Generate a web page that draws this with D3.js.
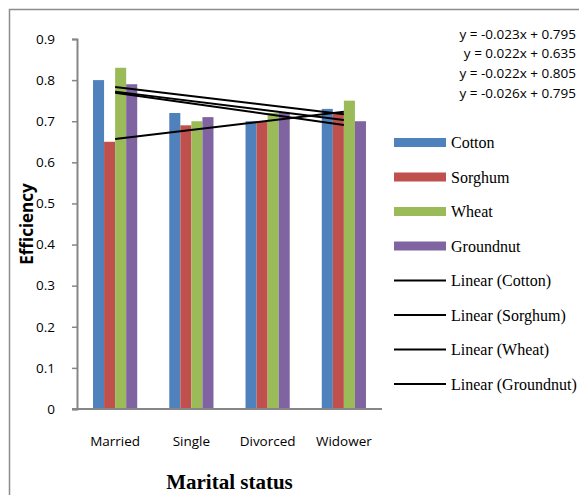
<!DOCTYPE html>
<html>
<head>
<meta charset="utf-8">
<script src="https://cdn.jsdelivr.net/npm/d3@7"></script>
<style>
  body { margin: 0; background: #fff; }
  svg { display: block; }
  .tick-lbl { font-family: "Open Sans", sans-serif; font-size: 13.5px; fill: #000; }
  .legend-lbl { font-family: "Liberation Serif", "Times New Roman", serif; font-size: 16px; fill: #000; }
</style>
</head>
<body>
<div id="chart"></div>
<script>
// data
var categories = ["Married", "Single", "Divorced", "Widower"];
var seriesNames = ["Cotton", "Sorghum", "Wheat", "Groundnut"];
var cotton = [0.80, 0.72, 0.70, 0.73];
var sorghum = [0.65, 0.69, 0.70, 0.72];
var wheat = [0.83, 0.70, 0.72, 0.75];
var groundnut = [0.79, 0.71, 0.72, 0.70];
var yTicks = [0, 0.1, 0.2, 0.3, 0.4, 0.5, 0.6, 0.7, 0.8, 0.9];
var equations = ["y = -0.023x + 0.795", "y = 0.022x + 0.635", "y = -0.022x + 0.805", "y = -0.026x + 0.795"];

var values = [cotton, sorghum, wheat, groundnut];
var colors = ["#4f81bd", "#c0504d", "#9bbb59", "#8064a2"];

var W = 579, H = 495;
var plot = { left: 77, right: 382, top: 39, bottom: 409 };

var svg = d3.select("#chart").append("svg")
    .attr("width", W)
    .attr("height", H);

// outer chart border (cut off right and bottom)
svg.append("path")
    .attr("d", "M9.5," + H + "V9.5H" + W)
    .attr("fill", "none")
    .attr("stroke", "#8c8c8c")
    .attr("stroke-width", 1.5);

var x = d3.scaleBand()
    .domain(categories)
    .range([plot.left, plot.right])
    .paddingInner(0)
    .paddingOuter(0);

var y = d3.scaleLinear()
    .domain([0, 0.9])
    .range([plot.bottom, plot.top]);

// bars, wide gap between groups
var barW = x.bandwidth() / (4 + 2.9);
var groupOffset = (x.bandwidth() - 4 * barW) / 2;

var groups = svg.append("g").selectAll("g")
    .data(categories)
    .enter().append("g")
    .attr("transform", function(d) { return "translate(" + (x(d) + groupOffset) + ",0)"; });

groups.selectAll("rect")
    .data(function(d, i) { return values.map(function(v, s) { return { s: s, v: v[i] }; }); })
    .enter().append("rect")
    .attr("x", function(d) { return d.s * barW; })
    .attr("y", function(d) { return y(d.v); })
    .attr("width", barW)
    .attr("height", function(d) { return plot.bottom - y(d.v); })
    .attr("fill", function(d) { return colors[d.s]; });

// y axis
var yAxis = d3.axisLeft(y)
    .tickValues(yTicks)
    .tickSize(5)
    .tickFormat(function(d) { return d === 0 ? "0" : d3.format(".1f")(d); });

var gy = svg.append("g")
    .attr("transform", "translate(" + plot.left + ",0)")
    .call(yAxis);
gy.select(".domain").attr("stroke", "#868686").attr("stroke-width", 2);
gy.selectAll(".tick line").attr("stroke", "#868686").attr("stroke-width", 1.5);
gy.selectAll(".tick text")
    .attr("class", "tick-lbl")
    .attr("x", -22)
    .attr("font-family", null).attr("font-size", null);

// x axis
var xAxis = d3.axisBottom(x).tickSize(0);
var gx = svg.append("g")
    .attr("transform", "translate(0," + plot.bottom + ")")
    .call(xAxis);
gx.select(".domain").attr("stroke", "#868686").attr("stroke-width", 2)
    .attr("d", "M" + (plot.left - 5) + ",0H" + plot.right);
gx.selectAll(".tick text")
    .attr("class", "tick-lbl")
    .attr("font-family", null).attr("font-size", null)
    .attr("y", 27);

// linear trendlines, least squares over x = 1..n
function fit(v) {
    var mx = d3.mean(v, function(d, i) { return i + 1; });
    var my = d3.mean(v);
    var num = d3.sum(v, function(d, i) { return (i + 1 - mx) * (d - my); });
    var den = d3.sum(v, function(d, i) { return (i + 1 - mx) * (i + 1 - mx); });
    var b = num / den;
    return { b: b, a: my - b * mx };
}

var line = d3.line()
    .x(function(d) { return x(categories[d.i]) + x.bandwidth() / 2; })
    .y(function(d) { return y(d.v); });

values.forEach(function(v) {
    var f = fit(v);
    var pts = [0, v.length - 1].map(function(i) { return { i: i, v: f.a + f.b * (i + 1) }; });
    svg.append("path")
        .attr("d", line(pts))
        .attr("fill", "none")
        .attr("stroke", "#000")
        .attr("stroke-width", 2);
});

// equations
svg.append("g").selectAll("text")
    .data(equations)
    .enter().append("text")
    .attr("class", "tick-lbl")
    .attr("x", 576)
    .attr("y", function(d, i) { return 38.5 + i * 19.8; })
    .attr("text-anchor", "end")
    .text(function(d) { return d; });

// legend
var legendItems = seriesNames.map(function(n, i) { return { name: n, bar: true, c: colors[i] }; })
    .concat(seriesNames.map(function(n) { return { name: "Linear (" + n + ")", bar: false }; }));

var lg = svg.append("g").selectAll("g")
    .data(legendItems)
    .enter().append("g")
    .attr("transform", function(d, i) { return "translate(394," + (142.5 + i * 34.5) + ")"; });

lg.filter(function(d) { return d.bar; }).append("rect")
    .attr("x", 0).attr("y", -4.5)
    .attr("width", 52).attr("height", 9)
    .attr("fill", function(d) { return d.c; });

lg.filter(function(d) { return !d.bar; }).append("line")
    .attr("x1", 0).attr("x2", 52)
    .attr("stroke", "#000").attr("stroke-width", 2);

lg.append("text")
    .attr("class", "legend-lbl")
    .attr("x", 57)
    .attr("y", 5.5)
    .text(function(d) { return d.name; });

// axis titles
svg.append("text")
    .attr("transform", "translate(33,224) rotate(-90)")
    .attr("text-anchor", "middle")
    .attr("font-family", "'Open Sans', sans-serif")
    .attr("font-weight", "bold")
    .attr("font-size", 17)
    .text("Efficiency");

svg.append("text")
    .attr("x", 229.5)
    .attr("y", 489)
    .attr("text-anchor", "middle")
    .attr("font-family", "'Liberation Serif', 'Times New Roman', serif")
    .attr("font-weight", "bold")
    .attr("font-size", 21)
    .text("Marital status");
</script>
</body>
</html>
